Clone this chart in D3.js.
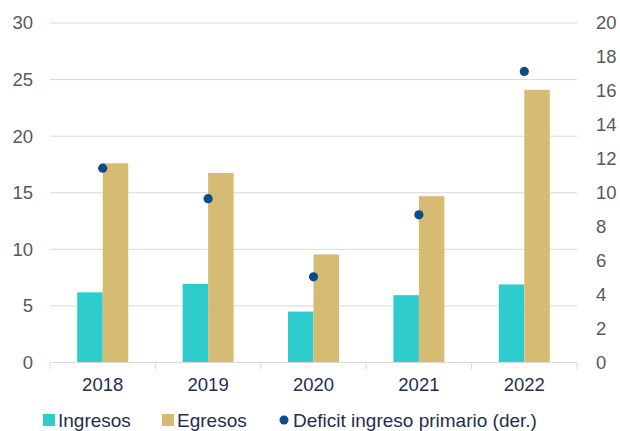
<!DOCTYPE html>
<html><head><meta charset="utf-8">
<script src="https://cdn.jsdelivr.net/npm/d3@7"></script>
<style>body{margin:0;background:#fff;}svg{display:block;font-family:"Liberation Sans",Arial,sans-serif;}</style>
</head><body><svg id="c" width="620" height="431"></svg>
<script>
const categories = ["2018","2019","2020","2021","2022"];
const ingresos = [6.2, 6.95, 4.5, 5.95, 6.9];
const egresos = [17.6, 16.75, 9.55, 14.7, 24.1];
const deficit = [11.45, 9.65, 5.05, 8.7, 17.15];
const leftTicks = [0,5,10,15,20,25,30];
const rightTicks = [0,2,4,6,8,10,12,14,16,18,20];

const svg = d3.select("#c");
const m = {l:50, r:577, t:23, b:362.5};
const x = d3.scaleBand().domain(categories).range([m.l, m.r]);
const yL = d3.scaleLinear().domain([0,30]).range([m.b, m.t]);
const yR = d3.scaleLinear().domain([0,20]).range([m.b, m.t]);
const bw = 25.5;
const navy = "#1f2e4e";

// gridlines
svg.append("g").selectAll("line").data(leftTicks.filter(d=>d>0)).join("line")
  .attr("x1", m.l).attr("x2", m.r).attr("y1", d=>yL(d)).attr("y2", d=>yL(d))
  .attr("stroke", "#d9d9d9").attr("stroke-width", 1);

// left labels
svg.append("g").selectAll("text").data(leftTicks).join("text")
  .attr("x", 33).attr("y", d=>yL(d)).attr("dy","0.35em").attr("text-anchor","end")
  .attr("font-size", 18.5).attr("fill", "#595959").text(d=>d);
// right labels
svg.append("g").selectAll("text").data(rightTicks).join("text")
  .attr("x", 596).attr("y", d=>yR(d)).attr("dy","0.35em").attr("text-anchor","start")
  .attr("font-size", 18.5).attr("fill", "#595959").text(d=>d);

// bars
const g = svg.append("g");
g.selectAll("rect.ing").data(categories).join("rect").attr("class","ing")
  .attr("x", d=>x(d)+x.bandwidth()/2-bw).attr("width", bw)
  .attr("y", (d,i)=>yL(ingresos[i])).attr("height", (d,i)=>yL(0)-yL(ingresos[i]))
  .attr("fill", "#2ecccc");
g.selectAll("rect.eg").data(categories).join("rect").attr("class","eg")
  .attr("x", d=>x(d)+x.bandwidth()/2).attr("width", bw)
  .attr("y", (d,i)=>yL(egresos[i])).attr("height", (d,i)=>yL(0)-yL(egresos[i]))
  .attr("fill", "#d6bb73");

// x axis
const xa = svg.append("g");
xa.append("line").attr("x1", m.l).attr("x2", m.r).attr("y1", m.b).attr("y2", m.b)
  .attr("stroke", "#d9d9d9").attr("stroke-width", 1);
const bounds = categories.map(d=>x(d)).concat([m.r]);
xa.selectAll("line.t").data(bounds).join("line").attr("class","t")
  .attr("x1", d=>d).attr("x2", d=>d).attr("y1", m.b).attr("y2", m.b+7)
  .attr("stroke", "#d9d9d9").attr("stroke-width", 1);
xa.selectAll("text").data(categories).join("text")
  .attr("x", d=>x(d)+x.bandwidth()/2).attr("y", 385).attr("dy","0.35em")
  .attr("text-anchor","middle").attr("font-size", 18.5).attr("fill", navy).text(d=>d);

// dots
svg.append("g").selectAll("circle").data(categories).join("circle")
  .attr("cx", d=>x(d)+x.bandwidth()/2).attr("cy", (d,i)=>yR(deficit[i])).attr("r", 4.6)
  .attr("fill", "#0b4a8b");

// legend
const lg = svg.append("g");
lg.append("rect").attr("x", 43).attr("y", 414).attr("width", 12).attr("height", 12).attr("fill", "#2ecccc");
lg.append("text").attr("x", 58).attr("y", 427).attr("font-size", 19).attr("fill", navy).text("Ingresos");
lg.append("rect").attr("x", 162).attr("y", 414).attr("width", 12).attr("height", 12).attr("fill", "#d6bb73");
lg.append("text").attr("x", 177).attr("y", 427).attr("font-size", 19).attr("fill", navy).text("Egresos");
lg.append("circle").attr("cx", 284).attr("cy", 420).attr("r", 4.5).attr("fill", "#0b4a8b");
lg.append("text").attr("x", 293).attr("y", 427).attr("font-size", 19).attr("fill", navy).text("Deficit ingreso primario (der.)");
</script></body></html>
